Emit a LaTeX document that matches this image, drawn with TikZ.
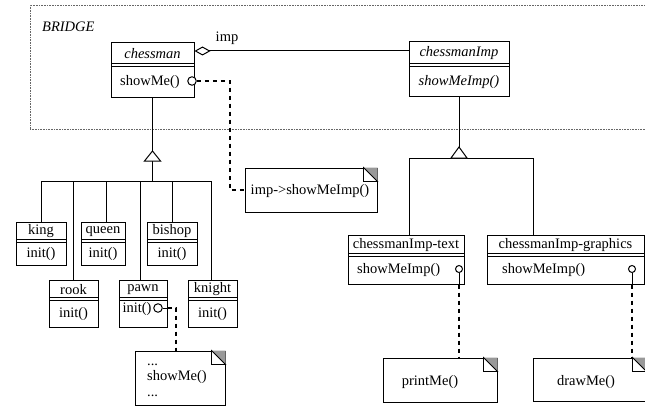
\documentclass[tikz,border=0pt]{standalone}
\usepackage{fontspec}
\setmainfont{Liberation Serif}
\usetikzlibrary{arrows.meta,fit,calc}
\tikzset{
  clsbox/.style={draw, line width=1pt, inner sep=0pt},
  divline/.style={line width=0.7pt},
  txt/.style={inner sep=0pt, font=\fontsize{14.5}{15.5}\selectfont},
  link/.style={line width=1pt},
  dashlink/.style={line width=1.3pt, dash pattern=on 4pt off 4pt},
  pin/.style={circle, draw, line width=1pt, minimum size=8.5pt, inner sep=0pt, fill=white},
  lolli/.style={circle, draw, line width=1pt, minimum size=7pt, inner sep=0pt, fill=white},
  notebox/.style={draw, line width=1pt, inner sep=0pt},
  framebox/.style={draw=black!60, line width=0.8pt, dash pattern=on 0.7pt off 0.9pt, inner sep=0pt}
}
% name, x1, y1, x2, y2, ydiv, title, method, title font
\newcommand\umlcls[9]{%
  \node[clsbox, fit={(#2,#3) (#4,#5)}] (#1) {};
  \draw[divline] ({#2},{#6}) -- ({#4},{#6}) ({#2},{#6+3}) -- ({#4},{#6+3});
  \node[txt] (#1-t) at ({(#2+#4)/2},{(#3+#6)/2+1}) {#9#7};
  \node[txt] (#1-m) at ({(#2+#4)/2},{(#6+3+#5)/2+1}) {#8};
}
\newcommand\notefold[1]{%
  \fill[black!40] ([xshift=-14pt]#1.north east) -- (#1.north east) -- ([yshift=-14pt]#1.north east) -- cycle;
  \draw[line width=0.8pt] ([xshift=-14pt]#1.north east) -- ([xshift=-14pt,yshift=-14pt]#1.north east) -- ([yshift=-14pt]#1.north east) -- cycle;
}
\begin{document}
\begin{tikzpicture}[x=1pt,y=-1pt]
\useasboundingbox (0,0) rectangle (645,417);
\clip (0,0) rectangle (645,417);
\fill[white] (0,0) rectangle (645,417);

% BRIDGE frame
\node[framebox, fit={(30,5) (660,129)}] (bridge) {};
\node[txt, anchor=west, font=\fontsize{14.5}{15}\selectfont\itshape] (bridgelbl) at (42,27) {BRIDGE};

% classes
\umlcls{chessman}{111}{43}{194}{98}{63}{chessman}{}{\itshape}
\umlcls{imp}{409}{42}{509}{97}{63}{chessmanImp}{\itshape showMeImp()}{\itshape}
\umlcls{king}{16}{222}{66}{265}{239}{king}{init()}{}
\umlcls{queen}{81}{222}{125}{265}{239}{queen}{init()}{}
\umlcls{bishop}{147}{222}{197}{265}{239}{bishop}{init()}{}
\umlcls{rook}{49}{280}{98}{327}{297}{rook}{init()}{}
\umlcls{pawn}{119}{280}{167}{327}{297}{pawn}{}{}
\umlcls{knight}{188}{280}{237}{327}{297}{knight}{init()}{}
\umlcls{text}{348}{235}{464}{284}{253}{chessmanImp-text}{}{}
\umlcls{graphics}{487}{235}{644}{284}{253}{chessmanImp-graphics}{}{}

\node[txt] (chessman-m2) at (150,82) {showMe()};
\node[txt] (pawn-m2) at (137,309) {init()};
\node[txt, anchor=west] (text-m2) at (357,270) {showMeImp()};
\node[txt, anchor=west] (graphics-m2) at (502,270) {showMeImp()};

% notes
\node[notebox, fit={(245,168) (377,212)}] (impnote) {};
\node[txt] (impnote-t) at (310,191) {imp->showMeImp()};
\node[notebox, fit={(135,351) (225,405)}] (shownote) {};
\node[txt, align=left, anchor=west] (shownote-t) at (147,380) {...\\showMe()\\...};
\node[notebox, fit={(383,358) (497,402)}] (printnote) {};
\node[txt] (printnote-t) at (430,382) {printMe()};
\node[notebox, fit={(533,358) (646,401)}] (drawnote) {};
\node[txt] (drawnote-t) at (586,382) {drawMe()};
\notefold{impnote}
\notefold{shownote}
\notefold{printnote}
\notefold{drawnote}

% aggregation
\coordinate (improw) at (0,51);
\draw[link, {Diamond[open,length=16pt,width=9pt]}-] (chessman.east |- improw) -- (imp.west |- improw);
\node[txt] (implbl) at (227,38) {imp};

% inheritance left
\coordinate (triL) at (152.5,151);
\coordinate (busL) at (152.5,181);
\draw[link] (chessman.south) -- (triL);
\draw[link] ([yshift=-10pt]triL) -- (busL);
\draw[link, fill=white] (triL) -- ++(-8,10) -- ++(16,0) -- cycle;
\draw[link] (king.north |- busL) -- ([xshift=-1pt]knight.north |- busL);
\draw[link] (king.north) -- (king.north |- busL);
\draw[link] ([xshift=3pt]queen.north) -- ([xshift=3pt]queen.north |- busL);
\draw[link] (bishop.north) -- (bishop.north |- busL);
\draw[link] (rook.north) -- (rook.north |- busL);
\draw[link] ([xshift=-3pt]pawn.north) -- ([xshift=-3pt]pawn.north |- busL);
\draw[link] ([xshift=-1pt]knight.north) -- ([xshift=-1pt]knight.north |- busL);

% inheritance right
\coordinate (triR) at (459,147);
\coordinate (busR) at (459,158);
\draw[link] (imp.south) -- (triR);
\draw[link] ([xshift=3pt]text.north |- busR) -- ([xshift=-32.5pt]graphics.north |- busR);
\draw[link, fill=white] (triR) -- ++(-8,11) -- ++(16,0) -- cycle;
\draw[link] ([xshift=3pt]text.north) -- ([xshift=3pt]text.north |- busR);
\draw[link] ([xshift=-32.5pt]graphics.north) -- ([xshift=-32.5pt]graphics.north |- busR);

% implementation pins and dashed links
\node[pin] (cpin) at (192,81) {};
\coordinate (bend1) at (230,190);
\draw[dashlink] (cpin.east) -| (bend1) -- (impnote.west);

\node[pin] (ppin) at (158,308) {};
\coordinate (bend2) at (176,351);
\draw[link] (ppin.east) -- (pawn.east |- ppin);
\draw[dashlink] (pawn.east |- ppin) -| (bend2);

\node[lolli] (tpin) at (459,269) {};
\draw[link] (tpin.south) -- (tpin |- text.south);
\draw[dashlink] (tpin |- text.south) -- (tpin |- printnote.north);

\node[lolli] (gpin) at (632,269) {};
\draw[link] (gpin.south) -- (gpin |- graphics.south);
\draw[dashlink] (gpin |- graphics.south) -- (gpin |- drawnote.north);
\end{tikzpicture}
\end{document}
